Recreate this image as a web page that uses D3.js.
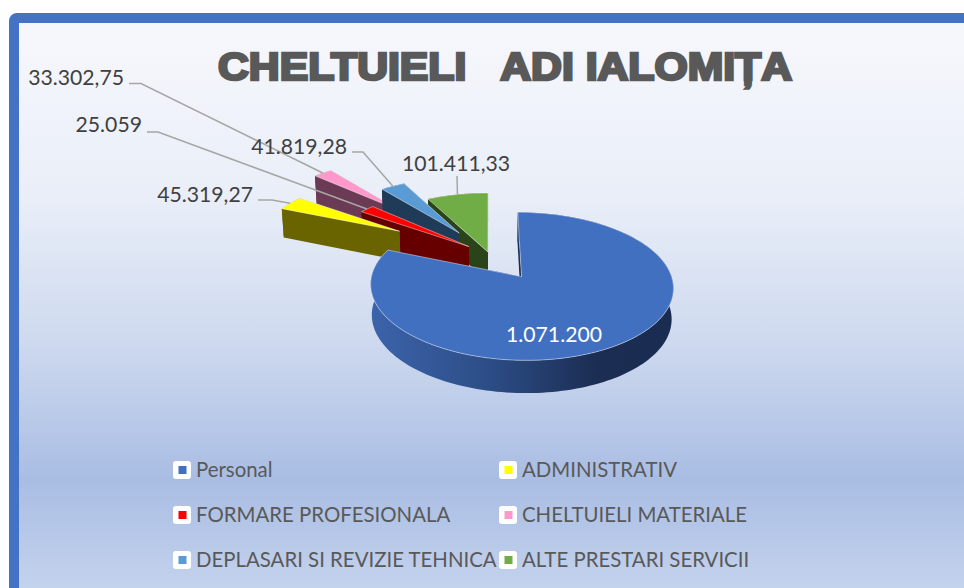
<!DOCTYPE html>
<html>
<head>
<meta charset="utf-8">
<style>
html, body { margin: 0; padding: 0; background: #fff; }
svg { display: block; font-family: Lato, sans-serif; }
</style>
<script src="https://cdn.jsdelivr.net/npm/d3@7"></script>
</head>
<body>
<svg id="chart" width="964" height="588"></svg>
<script>
"use strict"

const categories = ["Personal", "ADMINISTRATIV", "FORMARE PROFESIONALA", "CHELTUIELI MATERIALE", "DEPLASARI SI REVIZIE TEHNICA", "ALTE PRESTARI SERVICII"]
const values = [1071200, 45319.27, 25059, 33302.75, 41819.28, 101411.33]
const valueLabels = ["1.071.200", "45.319,27", "25.059", "33.302,75", "41.819,28", "101.411,33"]
const explosion = [0.39, 0.74, 0.18, 0.97, 0.39, 0.03]
const titleText = "CHELTUIELI   ADI IALOMIȚA"

const topColors = ["#4270c1", "#ffff00", "#ff0000", "#ff99cc", "#5b9bd5", "#70ad47"]
const wallColors = ["url(#personalWall)", "#6a6400", "#660000", "#6b3a55", "#1f3b57", "#2a4318"]
const drawOrder = [5, 3, 4, 2, 1, 0]

// pie "camera": center, radii, perspective and extrusion
const cx = 489, cy = 254, rx = 144, ry = 67, persp = 0.125

function project(u, v, bottom) {
    const s = 1 / (1 + persp * v)
    const x = cx + rx * u * s * (bottom ? 0.99 : 1)
    const y = cy - ry * v * s + (bottom ? 16 + 14 * s : 0)
    return [x, y]
}

const svg = d3.select("#chart")
const defs = svg.append("defs")

const bg = defs.append("linearGradient").attr("id", "bg")
    .attr("x1", 0).attr("y1", 0).attr("x2", 0).attr("y2", 1)
bg.selectAll("stop")
    .data([[0, "#f7f8fc"], [0.28, "#e9eef8"], [0.5, "#cfdaef"], [0.72, "#a9bde3"], [0.89, "#c3d2ed"], [1, "#c3d2ed"]])
    .enter().append("stop")
    .attr("offset", d => d[0])
    .attr("stop-color", d => d[1])

const wall = defs.append("linearGradient").attr("id", "personalWall")
    .attr("x1", 0).attr("y1", 0).attr("x2", 1).attr("y2", 0)
wall.selectAll("stop")
    .data([[0, "#3c64ab"], [0.4, "#2c4c85"], [0.75, "#1b2d52"], [1, "#1a2c50"]])
    .enter().append("stop")
    .attr("offset", d => d[0])
    .attr("stop-color", d => d[1])

// frame runs off the right and bottom of the picture
svg.append("rect")
    .attr("x", 14).attr("y", 18)
    .attr("width", 1000).attr("height", 640)
    .attr("rx", 3)
    .attr("fill", "url(#bg)")
    .attr("stroke", "#4472c4")
    .attr("stroke-width", 10)

svg.append("text")
    .attr("x", 218).attr("y", 79.5)
    .attr("textLength", 574)
    .attr("lengthAdjust", "spacingAndGlyphs")
    .style("white-space", "pre")
    .style("font-family", "'Liberation Sans', sans-serif")
    .style("font-weight", 700)
    .style("font-size", "38px")
    .attr("fill", "#595959")
    .attr("stroke", "#595959")
    .attr("stroke-width", 2.6)
    .text(titleText)

const pie = d3.pie().sort(null).startAngle(0).endAngle(2 * Math.PI)
const arcs = pie(values).map((d, i) => {
    const mid = (d.startAngle + d.endAngle) / 2
    const ox = explosion[i] * Math.sin(mid)
    const oy = explosion[i] * Math.cos(mid)
    const n = Math.max(4, Math.ceil((d.endAngle - d.startAngle) / 0.03))
    const angles = d3.range(n + 1).map(k => d.startAngle + (d.endAngle - d.startAngle) * k / n)
    return {
        index: i, mid, ox, oy, angles,
        rim: (a, bottom) => project(ox + Math.sin(a), oy + Math.cos(a), bottom),
        apex: bottom => project(ox, oy, bottom)
    }
})

const line = d3.line()
const closed = pts => line(pts) + "Z"

const pieGroup = svg.append("g")

drawOrder.forEach(i => {
    const a = arcs[i]
    const g = pieGroup.append("g")
    const rimTop = a.angles.map(t => a.rim(t, false))
    const rimBottom = a.angles.map(t => a.rim(t, true))
    const first = a.angles[0], last = a.angles[a.angles.length - 1]

    // the two cut faces, then the outer wall, then the lid
    g.append("path")
        .attr("d", closed([a.apex(false), a.rim(first, false), a.rim(first, true), a.apex(true)]))
        .attr("fill", i === 0 ? "#1b2d52" : wallColors[i])
    g.append("path")
        .attr("d", closed([a.apex(false), a.rim(last, false), a.rim(last, true), a.apex(true)]))
        .attr("fill", i === 0 ? "#1b2d52" : wallColors[i])
    g.append("path")
        .attr("d", closed(rimTop.concat(rimBottom.slice().reverse())))
        .attr("fill", wallColors[i])
    g.append("path")
        .attr("d", closed([a.apex(false)].concat(rimTop)))
        .attr("fill", topColors[i])
        .attr("stroke", "#fff")
        .attr("stroke-opacity", 0.55)
        .attr("stroke-width", 0.8)
})

// where the labels sit, index matches categories
const labelLayout = [
    { x: 554, y: 342, anchor: "middle", color: "#fff" },
    { x: 253, y: 202, anchor: "end", elbow: [[258, 200], [272, 200]] },
    { x: 142, y: 132, anchor: "end", elbow: [[147, 132], [158, 132]] },
    { x: 124, y: 85, anchor: "end", elbow: [[129, 83.5], [141, 83.5]] },
    { x: 347, y: 154, anchor: "end", elbow: [[352, 152], [363, 152]] },
    { x: 402, y: 171, anchor: "start", elbow: [[457, 176]] }
]

arcs.forEach(a => {
    const l = labelLayout[a.index]
    if (!l.elbow) return
    svg.append("path")
        .attr("d", line(l.elbow.concat([a.rim(a.mid, false)])))
        .attr("fill", "none")
        .attr("stroke", "#a6a6a6")
        .attr("stroke-width", 1.5)
})

svg.append("g").selectAll("text")
    .data(valueLabels)
    .enter().append("text")
    .attr("x", (d, i) => labelLayout[i].x)
    .attr("y", (d, i) => labelLayout[i].y)
    .attr("text-anchor", (d, i) => labelLayout[i].anchor)
    .attr("fill", (d, i) => labelLayout[i].color || "#404040")
    .style("font-size", "21.2px")
    .text(d => d)

// legend, two columns of three rows
const legendX = d3.scalePoint().domain([0, 1]).range([173, 499])
const legendY = d3.scalePoint().domain([0, 1, 2]).range([470, 560])

const legend = svg.append("g").selectAll("g")
    .data(categories)
    .enter().append("g")
    .attr("transform", (d, i) => "translate(" + legendX(i % 2) + "," + legendY(Math.floor(i / 2)) + ")")

legend.append("rect")
    .attr("x", 0).attr("y", -9)
    .attr("width", 18).attr("height", 18)
    .attr("rx", 3)
    .attr("fill", "#fff")

legend.append("rect")
    .attr("x", 5.5).attr("y", -4)
    .attr("width", 8).attr("height", 8)
    .attr("fill", (d, i) => topColors[i])

legend.append("text")
    .attr("x", 23).attr("y", 7)
    .attr("fill", "#595959")
    .style("font-size", "20.4px")
    .text(d => d)
</script>
</body>
</html>
